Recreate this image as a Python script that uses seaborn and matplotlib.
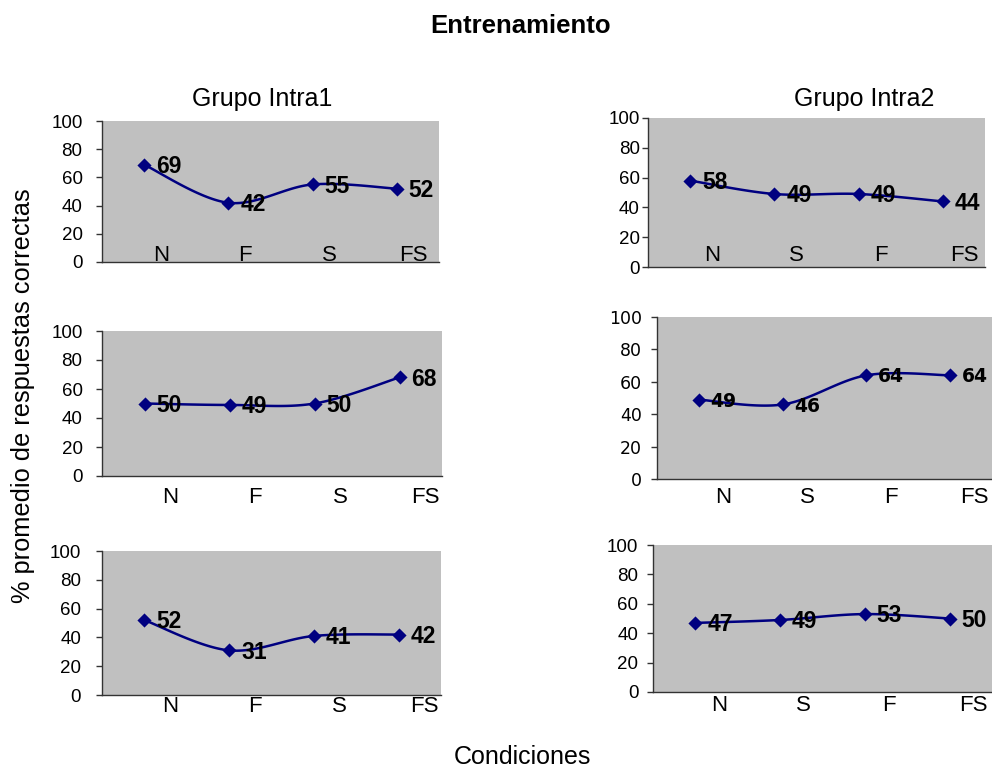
import numpy as np
import matplotlib
matplotlib.use('Agg')
import matplotlib.pyplot as plt
import seaborn as sns
import pandas as pd

sns.set_theme(style='white')
plt.rcParams['font.family'] = ['Liberation Sans', 'DejaVu Sans']
for k in ['text.color', 'axes.labelcolor', 'xtick.color', 'ytick.color']:
    plt.rcParams[k] = 'black'

# ---- data ----
cats_intra1 = ['N', 'F', 'S', 'FS']
cats_intra2 = ['N', 'S', 'F', 'FS']
intra1_row1 = [69, 42, 55, 52]
intra1_row2 = [50, 49, 50, 68]
intra1_row3 = [52, 31, 41, 42]
intra2_row1 = [58, 49, 49, 44]
intra2_row2 = [49, 46, 64, 64]
intra2_row3 = [47, 49, 53, 50]
yticks = [0, 20, 40, 60, 80, 100]

title = 'Entrenamiento'
subtitles = ['Grupo Intra1', 'Grupo Intra2']
ylabel = '% promedio de respuestas correctas'
xlabel = 'Condiciones'

NAVY = '#000080'
GRAY = '#C0C0C0'
W, H = 992, 769
fig = plt.figure(figsize=(W / 100, H / 100), dpi=100)


def px_axes(l, t, r, b):
    return fig.add_axes([l / W, 1 - b / H, (r - l) / W, (b - t) / H])


def smooth(xs, ys, n=40):
    P = np.column_stack([xs, ys]).astype(float)
    P = np.vstack([P[0], P, P[-1]])
    out = []
    t = np.linspace(0, 1, n)[:, None]
    for i in range(1, len(P) - 2):
        p0, p1, p2, p3 = P[i - 1], P[i], P[i + 1], P[i + 2]
        seg = 0.5 * ((2 * p1) + (-p0 + p2) * t + (2 * p0 - 5 * p1 + 4 * p2 - p3) * t ** 2
                     + (-p0 + 3 * p1 - 3 * p2 + p3) * t ** 3)
        out.append(seg if i == 1 else seg[1:])
    return np.vstack(out)


def panel(box, cats, vals, xpad, ypad, shift, alt_font=False):
    ax = px_axes(*box)
    ax.set_facecolor(GRAY)
    x = np.arange(len(cats))
    df = pd.DataFrame({'pos': x, 'val': vals})
    curve = smooth(x, vals)
    sns.lineplot(x=curve[:, 0], y=curve[:, 1], sort=False, estimator=None,
                 color=NAVY, linewidth=1.8, ax=ax)
    sns.scatterplot(data=df, x='pos', y='val', marker='D', s=52, color=NAVY,
                    linewidth=0, ax=ax, zorder=3)
    if alt_font:
        vfont = dict(family='DejaVu Sans', fontsize=13.5)
        tfont = dict(family='DejaVu Sans', fontsize=12.5)
    else:
        vfont = dict(family='Liberation Sans', fontsize=16.5)
        tfont = dict(family='Liberation Sans', fontsize=13.5)
    for xi, v in zip(x, vals):
        ax.annotate(str(v), (xi, v), xytext=(8.5, -1.2), textcoords='offset points',
                    ha='left', va='center', fontweight='bold', color='black', **vfont)
    ax.set_xlim(-0.5, 3.5)
    ax.set_ylim(0, 100)
    ax.set_xticks(x + shift)
    ax.set_xticklabels(cats, fontsize=16, color='black')
    ax.tick_params(axis='x', length=0, pad=xpad)
    ax.set_yticks(yticks)
    ax.set_yticklabels([str(v) for v in yticks], color='black', **tfont)
    ax.tick_params(axis='y', left=True, length=4, width=1, color='#333333',
                   direction='out', pad=ypad)
    for s in ['top', 'right']:
        ax.spines[s].set_visible(False)
    for s in ['left', 'bottom']:
        ax.spines[s].set_color('#333333')
        ax.spines[s].set_linewidth(1)
    ax.set_xlabel('')
    ax.set_ylabel('')
    return ax


panel((102, 121, 439, 262), cats_intra1, intra1_row1, xpad=-12.5, ypad=10, shift=0.2)
panel((648, 118, 985, 267), cats_intra2, intra2_row1, xpad=-15.5, ypad=2, shift=0.26)
panel((102, 331, 442, 476), cats_intra1, intra1_row2, xpad=8.0, ypad=10, shift=0.3)
panel((657, 317, 992, 479), cats_intra2, intra2_row2, xpad=6.0, ypad=7, shift=0.29, alt_font=True)
panel((102, 551, 441, 695), cats_intra1, intra1_row3, xpad=0.5, ypad=11, shift=0.3)
panel((653, 545, 992, 692), cats_intra2, intra2_row3, xpad=2.5, ypad=6.5, shift=0.28)

fig.text(521 / W, 1 - 26 / H, title, ha='center', va='center', fontsize=18.5, fontweight='bold')
fig.text(262 / W, 1 - 99 / H, subtitles[0], ha='center', va='center', fontsize=18)
fig.text(864 / W, 1 - 99 / H, subtitles[1], ha='center', va='center', fontsize=18)
fig.text(23 / W, 1 - 396 / H, ylabel, ha='center', va='center', rotation=90, fontsize=18.3)
fig.text(522 / W, 1 - 757 / H, xlabel, ha='center', va='center', fontsize=18)

fig.savefig('out.png', dpi=100, facecolor='white')
